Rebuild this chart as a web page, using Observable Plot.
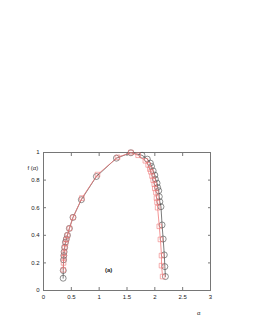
<!DOCTYPE html>
<html><head><meta charset="utf-8">
<script src="https://cdn.jsdelivr.net/npm/d3@7"></script>
<script src="https://cdn.jsdelivr.net/npm/@observablehq/plot@0.6"></script>
<style>body{margin:0;background:#fff}#c{width:253px;height:327px}</style>
</head><body><div id="c"></div>
<script>
const blackAlpha=[0.353,0.355,0.36,0.365,0.37,0.38,0.395,0.41,0.43,0.465,0.53,0.68,0.95,1.31,1.57,1.77,1.865,1.92,1.94,1.97,2.0,2.01,2.04,2.05,2.07,2.08,2.09,2.11,2.13,2.15,2.17,2.18,2.19];
const blackF=[0.089,0.145,0.222,0.253,0.28,0.313,0.35,0.373,0.40,0.45,0.53,0.658,0.826,0.959,0.998,0.98,0.952,0.923,0.899,0.867,0.836,0.807,0.778,0.747,0.723,0.68,0.643,0.607,0.475,0.373,0.258,0.173,0.101];
const redAlpha=[0.355,0.36,0.365,0.37,0.38,0.395,0.41,0.43,0.465,0.53,0.69,0.97,1.33,1.57,1.7,1.83,1.88,1.91,1.93,1.95,1.97,1.99,2.0,2.02,2.03,2.04,2.05,2.08,2.1,2.12,2.12,2.14];
const redF=[0.15,0.2,0.24,0.27,0.31,0.34,0.37,0.4,0.45,0.53,0.67,0.84,0.965,1.0,0.98,0.94,0.91,0.88,0.86,0.83,0.8,0.77,0.74,0.71,0.67,0.64,0.6,0.465,0.37,0.253,0.18,0.101];
const xTicks=[0,0.5,1,1.5,2,2.5,3];
const xTickLabels=["0","0.5","1","1.5","2","2.5","3"];
const yTicks=[0,0.2,0.4,0.6,0.8,1];
const yTickLabels=["0","0.2","0.4","0.6","0.8","1"];
const black=blackAlpha.map((a,i)=>({a,f:blackF[i]}));
const red=redAlpha.map((a,i)=>({a,f:redF[i]}));
const blackCol="#444", redCol="#f07a7a";
const plot=Plot.plot({
  width:253,height:327,
  marginLeft:43,marginRight:43,marginTop:152,marginBottom:37,
  style:{fontFamily:"Liberation Sans, Arial, sans-serif",fontSize:"6px",color:"#222",background:"#fff"},
  x:{domain:[0,3]},
  y:{domain:[0,1]},
  marks:[
    Plot.frame({stroke:"#555",strokeWidth:0.8}),
    Plot.axisX({ticks:xTicks,tickFormat:(d,i)=>xTickLabels[i],tickSize:-3,tickPadding:7,stroke:"#777",label:null}),
    Plot.axisX({anchor:"top",ticks:xTicks,tickFormat:null,text:null,tickSize:-3,stroke:"#777",label:null}),
    Plot.axisY({ticks:yTicks,tickFormat:(d,i)=>yTickLabels[i],tickSize:-3,tickPadding:7,stroke:"#777",label:null}),
    Plot.axisY({anchor:"right",ticks:yTicks,text:null,tickSize:-3,stroke:"#777",label:null}),
    Plot.line(black,{x:"a",y:"f",stroke:blackCol,strokeWidth:0.7}),
    Plot.dot(black,{x:"a",y:"f",r:3,stroke:blackCol,strokeWidth:0.6,fill:"none"}),
    Plot.line(red,{x:"a",y:"f",stroke:redCol,strokeWidth:0.8}),
    Plot.dot(red,{x:"a",y:"f",symbol:"square",r:2.6,stroke:redCol,strokeWidth:0.6,fill:"none"}),
    Plot.text(["(a)"],{x:1.17,y:0.145,fontWeight:"bold",fontSize:6}),
    Plot.text(["f (α)"],{frameAnchor:"top-left",dx:-16,dy:13,fontSize:6}),
    Plot.text(["α"],{frameAnchor:"bottom-right",dx:-10,dy:24,fontSize:6})
  ]
});
document.getElementById("c").appendChild(plot);
</script></body></html>
